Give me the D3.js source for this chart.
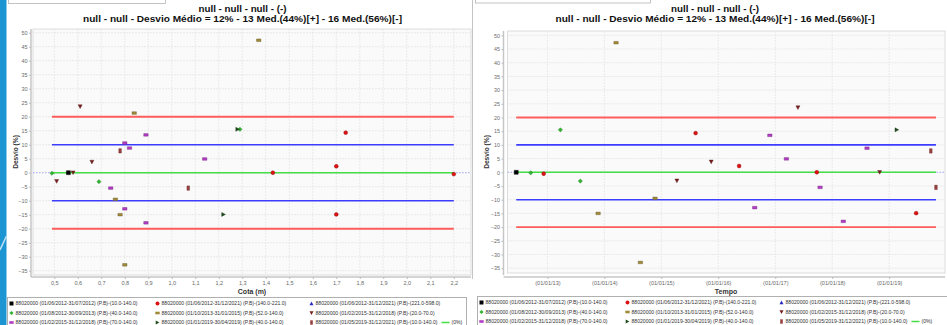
<!DOCTYPE html>
<html>
<head>
<meta charset="utf-8">
<script src="https://cdn.jsdelivr.net/npm/d3@7"></script>
<style>
  html, body { margin: 0; padding: 0; background: #fff; overflow: hidden; }
  svg { display: block; font-family: "Liberation Sans", Arial, sans-serif; }
</style>
</head>
<body>
<svg id="chart" width="947" height="325"></svg>
<script>
// ---- series definitions ----
const seriesLabels = [
  "88020000 (01/06/2012-31/07/2012) (P.B)-(10.0-140.0)",
  "88020000 (01/06/2012-31/12/2021) (P.B)-(140.0-221.0)",
  "88020000 (01/06/2012-31/12/2021) (P.B)-(221.0-598.0)",
  "88020000 (01/08/2012-30/09/2013) (P.B)-(40.0-140.0)",
  "88020000 (01/10/2013-31/01/2015) (P.B)-(52.0-140.0)",
  "88020000 (01/02/2015-31/12/2018) (P.B)-(20.0-70.0)",
  "88020000 (01/02/2015-31/12/2018) (P.B)-(70.0-140.0)",
  "88020000 (01/01/2019-30/04/2019) (P.B)-(40.0-140.0)",
  "88020000 (01/05/2019-31/12/2021) (P.B)-(10.0-140.0)"
];
const seriesColors = ["#000000", "#dd1111", "#2a2ac0", "#2fb52f", "#a08a3a",
                      "#7a1f1f", "#b23cc4", "#1f4d1f", "#9a4040"];
const seriesShapes = ["square", "circle", "triangleUp", "diamond", "hbar",
                      "triangleDown", "hbar", "triangleRight", "vbar"];

// ---- measurements (date order; null = no date recorded) ----
const pointSeries = [0, 3, 1, 3, 3, 4, 4, 4, 4, 4, 5, 1, 5, 6, 1, 6, 6, 6, 5, 1, 6, 6, 6, 5, 7, 7, 1, 8, 8];
const pointDate = ["2012-06-15", "2012-09-16", "2012-12-08", "2013-03-25", "2013-07-31",
                   "2013-11-22", "2014-03-17", null, "2014-08-20", "2014-11-22",
                   "2015-04-11", "2015-08-09", "2015-11-17", null, "2016-05-14",
                   "2016-08-22", "2016-11-27", "2017-03-13", "2017-05-26", "2017-09-24",
                   "2017-10-15", "2018-03-13", "2018-08-12", "2018-11-01", "2019-02-19",
                   null, "2019-06-23", "2019-09-25", "2019-10-28"];
const pointCota = [0.56, 0.49, 2.20, 1.29, 0.69, 0.78, 1.37, 0.84, 0.80, 0.76,
                   0.51, 1.74, 0.66, 0.80, 1.70, 0.80, 0.89, 1.14, 0.61, 1.43,
                   0.74, 0.89, 0.82, 0.58, 1.28, 1.22, 1.70, 0.78, 1.07];
const pointDesvio = [0, -0.2, -0.5, 15.5, -3.2, -15.0, 47.3, 21.3, -32.9, -9.5,
                     -3.1, 14.3, 3.8, 10.6, 2.3, -12.9, 13.5, 4.9, 23.6, 0,
                     -5.5, -17.9, 8.8, 0, 15.5, -14.9, -14.9, 7.8, -5.5];

// ---- tolerance bands ----
const limitLevels = [20, -20, 10, -10, 0];
const limitColors = ["#ff5c5c", "#ff5c5c", "#3c3cff", "#3c3cff", "#45de45"];

// ---- ticks and texts ----
const yTicks = [-35, -30, -25, -20, -15, -10, -5, 0, 5, 10, 15, 20, 25, 30, 35, 40, 45, 50];
const cotaTicks = [0.5, 0.6, 0.7, 0.8, 0.9, 1.0, 1.1, 1.2, 1.3, 1.4, 1.5, 1.6, 1.7, 1.8, 1.9, 2.0, 2.1, 2.2];
const dateTicks = ["2013-01-01", "2014-01-01", "2015-01-01", "2016-01-01", "2017-01-01", "2018-01-01", "2019-01-01"];
const titleLines = ["null - null - null - (-)",
                    "null - null - Desvio Médio = 12% - 13 Med.(44%)[+] - 16 Med.(56%)[-]"];
const zeroLabel = "(0%)";

const parseDate = d3.timeParse("%Y-%m-%d");
const points = pointSeries.map((s, i) => ({
  s, cota: pointCota[i], date: pointDate[i] ? parseDate(pointDate[i]) : null, v: pointDesvio[i]
}));

const svg = d3.select("#chart");

// application frame: side strip, toolbar edges, divider
svg.append("rect").attr("x", 0).attr("y", 0).attr("width", 6.5).attr("height", 325).attr("fill", "#1d95d3");
svg.append("line").attr("x1", 0).attr("y1", 250).attr("x2", 6.5).attr("y2", 236)
  .attr("stroke", "#b9e0f4").attr("stroke-width", 1.6);
svg.append("rect").attr("x", 8.5).attr("y", -6).attr("width", 157).attr("height", 9.5)
  .attr("fill", "#fff").attr("stroke", "#b5b5b5").attr("stroke-width", 0.8);
svg.append("rect").attr("x", 475.5).attr("y", -6).attr("width", 175).attr("height", 9)
  .attr("fill", "#fff").attr("stroke", "#b5b5b5").attr("stroke-width", 0.8);
svg.append("line").attr("x1", 472.5).attr("y1", 0).attr("x2", 472.5).attr("y2", 279)
  .attr("stroke", "#c4c4c4").attr("stroke-width", 1);

// marker path for a shape centred at 0,0
function shapePath(shape) {
  switch (shape) {
    case "square": return "M-2,-2H2V2H-2Z";
    case "circle": return d3.symbol(d3.symbolCircle, 12)();
    case "triangleUp": return "M0,-1.9L2,1.8H-2Z";
    case "triangleDown": return "M-2,-1.8H2L0,1.9Z";
    case "triangleRight": return "M-1.8,-2L1.9,0L-1.8,2Z";
    case "diamond": return "M0,-2.1L2.1,0L0,2.1L-2.1,0Z";
    case "hbar": return "M-2.2,-1.3H2.2V1.3H-2.2Z";
    case "vbar": return "M-1.3,-2.2H1.3V2.2H-1.3Z";
  }
}

function drawPanel(cfg) {
  const g = svg.append("g");
  const { left, right, top, bottom } = cfg.plot;
  const x = cfg.x, y = cfg.y;
  const shown = points.filter(d => cfg.xValue(d) != null);

  // titles
  g.selectAll("text.title").data(titleLines).join("text")
    .attr("x", cfg.titleX).attr("y", (d, i) => [11.6, 22.3][i])
    .attr("text-anchor", "middle").attr("font-size", 8.6).attr("font-weight", "bold")
    .attr("fill", "#111")
    .attr("textLength", (d, i) => [88, 319][i]).attr("lengthAdjust", "spacingAndGlyphs")
    .text(d => d);

  // plot background
  g.append("rect").attr("x", left).attr("y", top).attr("width", right - left).attr("height", bottom - top)
    .attr("fill", "#fafafa").attr("stroke", "#d4d4d4").attr("stroke-width", 0.8);

  // gridlines
  g.append("g").selectAll("line").data(yTicks).join("line")
    .attr("x1", left).attr("x2", right).attr("y1", d => y(d)).attr("y2", d => y(d))
    .attr("stroke", "#e2e2e2").attr("stroke-width", 0.7).attr("stroke-dasharray", "2,1");
  g.append("g").selectAll("line").data(cfg.xTicks).join("line")
    .attr("x1", d => x(d)).attr("x2", d => x(d)).attr("y1", top).attr("y2", bottom)
    .attr("stroke", "#e2e2e2").attr("stroke-width", 0.7).attr("stroke-dasharray", "2,1");

  // zero baseline across the whole plot
  g.append("line").attr("x1", left).attr("x2", right).attr("y1", y(0)).attr("y2", y(0))
    .attr("stroke", "#9a9aff").attr("stroke-width", 0.8).attr("stroke-dasharray", "1.5,1.5");

  // tolerance lines spanning the data extent
  const ext = d3.extent(shown, cfg.xValue);
  g.append("g").selectAll("line").data(limitLevels).join("line")
    .attr("x1", x(ext[0])).attr("x2", x(ext[1]))
    .attr("y1", d => y(d)).attr("y2", d => y(d))
    .attr("stroke", (d, i) => limitColors[i]).attr("stroke-width", (d, i) => i < 2 ? 1.9 : 1.6);

  // measurements
  g.append("g").selectAll("path").data(shown).join("path")
    .attr("transform", d => `translate(${x(cfg.xValue(d))},${y(d.v)})`)
    .attr("d", d => shapePath(seriesShapes[d.s]))
    .attr("fill", d => seriesColors[d.s])
    .attr("stroke", d => d3.color(seriesColors[d.s]).darker(1.2))
    .attr("stroke-width", 0.4);

  // axes
  const yAxis = g.append("g").attr("transform", `translate(${cfg.yAxisX},0)`)
    .call(d3.axisLeft(y).tickValues(yTicks).tickSize(2).tickSizeOuter(0).tickPadding(1.5));
  yAxis.select(".domain").attr("stroke", "#c6c6c6").attr("stroke-width", 1.5)
    .attr("d", `M0,${top}V${bottom + 2}`);
  yAxis.selectAll(".tick line").attr("stroke", "#bbb");
  yAxis.selectAll(".tick text").attr("font-size", 5.4).attr("fill", "#6a6a6a")
    .attr("font-family", "Liberation Sans, Arial, sans-serif");

  const xAxis = g.append("g").attr("transform", `translate(0,${cfg.xAxisY})`)
    .call(d3.axisBottom(x).tickValues(cfg.xTicks).tickFormat(cfg.xFormat)
      .tickSize(2).tickSizeOuter(0).tickPadding(1.8));
  xAxis.select(".domain").attr("stroke", "#c6c6c6").attr("stroke-width", 1.5)
    .attr("d", `M${cfg.yAxisX},0H${right}`);
  xAxis.selectAll(".tick line").attr("stroke", "#bbb");
  xAxis.selectAll(".tick text").attr("font-size", 5.6).attr("fill", "#6a6a6a")
    .attr("font-family", "Liberation Sans, Arial, sans-serif");

  // axis titles
  g.append("text").attr("x", cfg.xTitleX).attr("y", 294).attr("text-anchor", "middle")
    .attr("font-size", 7).attr("font-weight", 600).attr("fill", "#333").text(cfg.xTitle);
  g.append("text").attr("transform", `translate(${cfg.yTitleX},${(top + bottom) / 2}) rotate(-90)`)
    .attr("text-anchor", "middle").attr("font-size", 6.6).attr("font-weight", 600).attr("fill", "#333")
    .text("Desvio (%)");

  // legend
  const L = cfg.legend;
  g.append("rect").attr("x", L.x).attr("y", L.y).attr("width", L.w).attr("height", 40)
    .attr("fill", "#fff").attr("stroke", "#a8a8a8").attr("stroke-width", 0.9);
  const rowY = [303, 312.5, 322];
  const colX = [11, 157, 311];
  let lastEnd = 0;
  seriesLabels.forEach((lab, i) => {
    const r = Math.floor(i / 3), c = i % 3;
    const cx = L.x + colX[c] - 7, cy = L.y + rowY[r] - 297;
    g.append("path").attr("transform", `translate(${cx},${cy})`)
      .attr("d", shapePath(seriesShapes[i])).attr("fill", seriesColors[i]);
    const t = g.append("text").attr("x", cx + 4).attr("y", cy + 1.8)
      .attr("font-size", 5.1).attr("fill", "#333").text(lab);
    if (i === seriesLabels.length - 1) lastEnd = cx + 4 + t.node().getComputedTextLength();
  });
  const ly = L.y + rowY[2] - 297;
  g.append("line").attr("x1", lastEnd + 4).attr("x2", lastEnd + 12).attr("y1", ly).attr("y2", ly)
    .attr("stroke", limitColors[4]).attr("stroke-width", 1.5);
  g.append("text").attr("x", lastEnd + 14).attr("y", ly + 1.8).attr("font-size", 5.1)
    .attr("fill", "#333").text(zeroLabel);
}

// left panel: desvio against cota
const plotA = { left: 33, right: 471, top: 29, bottom: 275 };
drawPanel({
  plot: plotA,
  x: d3.scaleLinear().domain([0.4094, 2.2732]).range([plotA.left, plotA.right]),
  y: d3.scaleLinear().domain([-36.54, 51.32]).range([plotA.bottom, plotA.top]),
  xValue: d => d.cota,
  xTicks: cotaTicks,
  xFormat: d => d.toFixed(1).replace(".", ","),
  yAxisX: 31,
  xAxisY: 277,
  titleX: 242.5,
  xTitle: "Cota (m)",
  xTitleX: 252,
  yTitleX: 17.5,
  legend: { x: 7.5, y: 297.5, w: 459 }
});

// right panel: desvio against time
const plotB = { left: 507.5, right: 945, top: 31, bottom: 273 };
drawPanel({
  plot: plotB,
  x: d3.scaleTime().domain([parseDate("2012-04-20"), parseDate("2019-12-25")]).range([plotB.left, plotB.right]),
  y: d3.scaleLinear().domain([-36.75, 51.57]).range([plotB.bottom, plotB.top]),
  xValue: d => d.date,
  xTicks: dateTicks.map(parseDate),
  xFormat: d3.timeFormat("(%d/%m/%y)"),
  yAxisX: 503.5,
  xAxisY: 277,
  titleX: 715,
  xTitle: "Tempo",
  xTitleX: 726,
  yTitleX: 488.5,
  legend: { x: 477.5, y: 296.5, w: 480 }
});
</script>
</body>
</html>
